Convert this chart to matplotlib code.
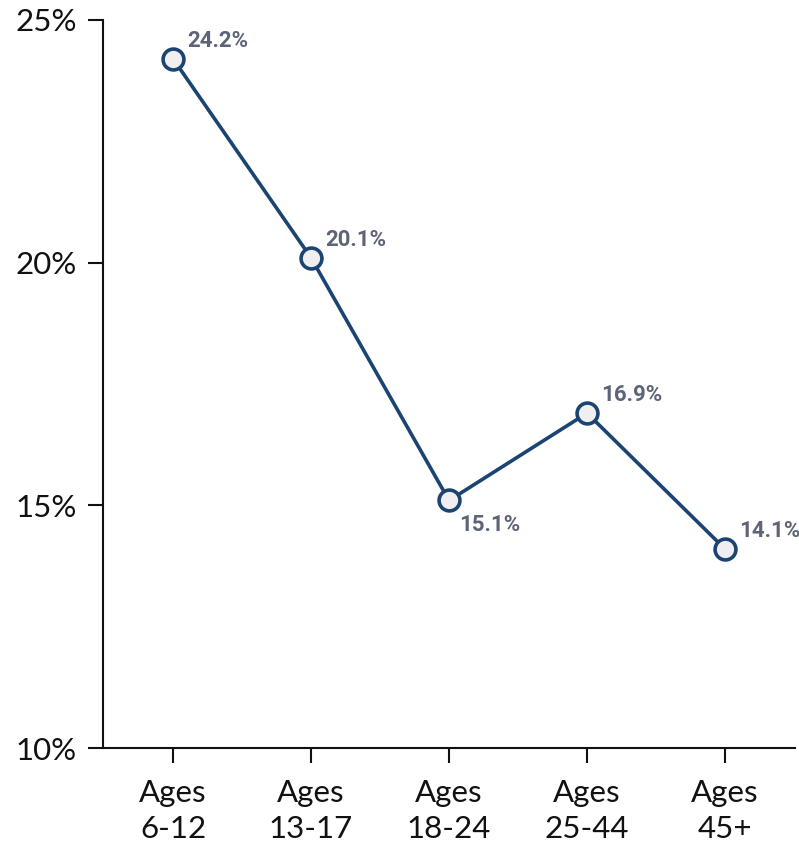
import matplotlib.pyplot as plt
from matplotlib.ticker import FuncFormatter

# data
groups = ["Ages\n6-12", "Ages\n13-17", "Ages\n18-24", "Ages\n25-44", "Ages\n45+"]
values = [24.2, 20.1, 15.1, 16.9, 14.1]
label_below = [False, False, True, False, False]

line_color = "#1b4472"
label_color = "#5d6478"

fig = plt.figure(figsize=(7.99, 8.5), dpi=100)
ax = fig.add_axes([0.129, 0.12, 0.866, 0.8565])

x = list(range(len(values)))
ax.plot(x, values, color=line_color, linewidth=2.6, marker="o", markersize=15,
        markerfacecolor="#efefef", markeredgecolor=line_color, markeredgewidth=2.6,
        zorder=3, clip_on=False)

for xi, v, below in zip(x, values, label_below):
    if below:
        ax.annotate(f"{v:.1f}%", (xi, v), xytext=(7, -10), textcoords="offset points",
                    ha="left", va="top", fontsize=16, fontweight="bold",
                    family="Roboto", color=label_color)
    else:
        ax.annotate(f"{v:.1f}%", (xi, v), xytext=(10, 5), textcoords="offset points",
                    ha="left", va="bottom", fontsize=16, fontweight="bold",
                    family="Roboto", color=label_color)

ax.set_xlim(-0.507, 4.507)
ax.set_ylim(10, 25)
ax.set_xticks(x)
ax.set_xticklabels(groups)
ax.set_yticks([10, 15, 20, 25])
ax.yaxis.set_major_formatter(FuncFormatter(lambda v, p: f"{v:.0f}%"))

for side in ["top", "right"]:
    ax.spines[side].set_visible(False)
for side in ["left", "bottom"]:
    ax.spines[side].set_linewidth(1.5)
    ax.spines[side].set_color("#111111")

ax.tick_params(axis="both", length=11, width=1.5, color="#111111", direction="out",
               labelsize=22.5, labelcolor="#111111")
ax.tick_params(axis="y", pad=8)
ax.tick_params(axis="x", pad=11)
for lab in ax.get_xticklabels() + ax.get_yticklabels():
    lab.set_family("Lato")
    lab.set_linespacing(1.35)

fig.savefig("out.png", dpi=100)
